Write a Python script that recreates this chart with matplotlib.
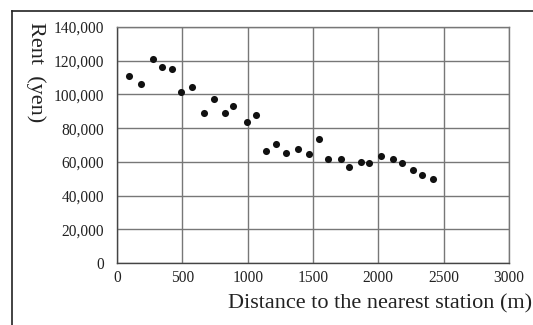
import matplotlib.pyplot as plt
from matplotlib.lines import Line2D

# distance to nearest station (m) and monthly rent (yen)
distance = [90, 185, 275, 342, 423, 490, 576, 666, 745, 827, 890, 995, 1061,
            1138, 1217, 1293, 1388, 1472, 1548, 1617, 1714, 1778, 1865, 1929,
            2018, 2110, 2179, 2263, 2337, 2421]
rent = [110700, 106400, 120800, 116400, 115300, 101400, 104600, 88800, 97300,
        88800, 92900, 83400, 87600, 66600, 70800, 65200, 67600, 64600, 73700,
        61700, 61700, 57100, 59900, 59100, 63400, 61700, 59100, 55300, 52400,
        49800]

x_ticks = [0, 500, 1000, 1500, 2000, 2500, 3000]
y_ticks = [0, 20000, 40000, 60000, 80000, 100000, 120000, 140000]

plt.rcParams['font.family'] = ['Liberation Serif', 'DejaVu Serif']

fig = plt.figure(figsize=(5.33, 3.25), dpi=100)
ax = fig.add_axes([117 / 533, 1 - 263 / 325, 392 / 533, 236 / 325])

ax.scatter(distance, rent, s=26, color='#111111', zorder=3, linewidths=0)

ax.set_xlim(0, 3000)
ax.set_ylim(0, 140000)
ax.set_xticks(x_ticks)
ax.set_yticks(y_ticks)
ax.set_yticklabels([f'{v:,}' for v in y_ticks])
ax.tick_params(length=0, labelsize=11.2, colors='#222222')
ax.tick_params(axis='y', pad=9)
ax.tick_params(axis='x', pad=5)
ax.grid(color='#777777', linewidth=1)
for s in ax.spines.values():
    s.set_color('#777777')
    s.set_linewidth(1)
ax.spines['left'].set_color('#444444')
ax.spines['bottom'].set_color('#444444')

# outer frame (top and left edges)
fig.add_artist(Line2D([12 / 533, 1], [1 - 11 / 325] * 2, color='#222222', lw=1.2))
fig.add_artist(Line2D([12 / 533] * 2, [0, 1 - 11 / 325], color='#222222', lw=1.2))

fig.text(36 / 533, 1 - 72 / 325, 'Rent  (yen)', rotation=270, fontsize=16,
         ha='center', va='center', color='#222222')
fig.text(532 / 533, 1 - 304 / 325, 'Distance to the nearest station (m)',
         fontsize=16, ha='right', va='center', color='#222222')

fig.savefig('out.png', dpi=100)
